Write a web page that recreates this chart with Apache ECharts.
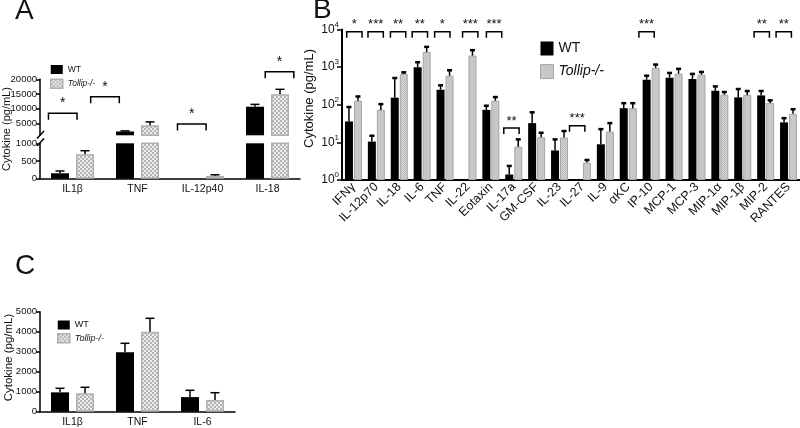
<!DOCTYPE html>
<html><head><meta charset="utf-8">
<script src="https://cdn.jsdelivr.net/npm/echarts@6/dist/echarts.min.js"></script>
<style>html,body{margin:0;padding:0;background:#fff}#c{width:800px;height:428px}</style>
</head><body><div id="c"></div>
<script>
// ---------- Panel A ----------
const catsA = ['IL1β', 'TNF', 'IL-12p40', 'IL-18'];
const wtA = [153, 2300, 0, 10700];
const wtErrA = [218, 2500, 0, 11500];
const koA = [690, 4430, 80, 14900];
const koErrA = [790, 5550, 110, 16600];
const bracketPosA = [-0.15, 0.5, 1.835, 3.185];
const bracketLevelA = [8460, 14100, 4830, 22580];
const bracketStarA = ['*', '*', '*', '*'];
const ticksAUpper = [5000, 10000, 15000, 20000];
const ticksALower = [0, 500, 1000];

// ---------- Panel B ----------
const catsB = ['IFNγ', 'IL-12p70', 'IL-18', 'IL-6', 'TNF', 'IL-22', 'Eotaxin', 'IL-17a', 'GM-CSF', 'IL-23',
  'IL-27', 'IL-9', 'αKC', 'IP-10', 'MCP-1', 'MCP-3', 'MIP-1α', 'MIP-1β', 'MIP-2', 'RANTES'];
const wtB = [36, 10.5, 154, 1000, 251, null, 73, 1.4, 32.5, 6.1, null, 8.9, 81, 464, 525, 480, 236, 157, 177, 34];
const wtErrB = [87, 15, 514, 1350, 328, null, 94, 2.36, 63, 12, null, 22.5, 110, 592, 700, 660, 307, 262, 232, 44];
const koB = [128, 73, 660, 2530, 590, 2030, 128, 7.7, 13.7, 13.5, 2.9, 19.4, 81, 950, 670, 630, 185, 182, 111, 57.5];
const koErrB = [166, 104, 727, 3450, 825, 2820, 160, 12, 18, 20, 3.4, 32.5, 110, 1170, 900, 745, 218, 232, 131, 76];
const bracketPosB = [0.04, 0.97, 1.95, 2.9, 3.88, 5.1, 6.14, 6.9, 9.77, 12.8, 17.83, 18.79];
const bracketLevelB = [8700, 8700, 8700, 8700, 8700, 8700, 8700, 24, 27.5, 8700, 8700, 8700];
const bracketStarB = ['*', '***', '**', '**', '*', '***', '***', '**', '***', '***', '**', '**'];
const ticksBMajor = [1, 10, 100, 1000, 10000];
const ticksBMinor = [2,3,4,5,6,7,8,9,20,30,40,50,60,70,80,90,200,300,400,500,600,700,800,900,2000,3000,4000,5000,6000,7000,8000,9000];

// ---------- Panel C ----------
const catsC = ['IL1β', 'TNF', 'IL-6'];
const wtC = [967, 2970, 730];
const wtErrC = [1170, 3420, 1070];
const koC = [920, 4000, 580];
const koErrC = [1220, 4670, 950];

const seriesNames = ['WT', 'Tollip-/-'];

// ---------- styling helpers ----------
const FONT = 'Liberation Sans, Arial, Helvetica, sans-serif';
const INK = '#111';
function checker(c1, c2, s) {
  const cv = document.createElement('canvas');
  cv.width = cv.height = s * 2;
  const g = cv.getContext('2d');
  g.fillStyle = c2; g.fillRect(0, 0, s * 2, s * 2);
  g.fillStyle = c1; g.fillRect(0, 0, s, s); g.fillRect(s, s, s, s);
  return { image: cv, repeat: 'repeat' };
}
const patA = checker('#b4b4b4', '#ececec', 2);
const patB = checker('#bdbdbd', '#d2d2d2', 1);
const koStyleA = { color: patA, borderColor: '#b0b0b0', borderWidth: 1.5 };
const koStyleB = { color: patB, borderColor: '#a5a5a5', borderWidth: 1 };
const plain = function (v) { return String(v); };

function errData(means, errs, keep) {
  const out = [];
  means.forEach((m, i) => {
    const e = errs[i];
    if (m == null || e == null || !(e > m)) return;
    if (keep && !keep(m)) return;
    out.push([i, e, m]);
  });
  return out;
}
function errSeries(xi, yi, data, offset, capHalf, capW, stemW) {
  return {
    type: 'custom', xAxisIndex: xi, yAxisIndex: yi, data: data, silent: true, z: 5,
    encode: { x: 0, y: 1 },
    renderItem: function (params, api) {
      const i = api.value(0), top = api.value(1), base = api.value(2);
      const pb = api.coord([i, base]);
      const pt = api.coord([i, top]);
      const x = pb[0] + offset;
      return {
        type: 'group', children: [
          { type: 'line', shape: { x1: x, y1: pb[1], x2: x, y2: pt[1] }, style: { stroke: '#000', lineWidth: stemW } },
          { type: 'line', shape: { x1: x - capHalf, y1: pt[1], x2: x + capHalf, y2: pt[1] }, style: { stroke: '#000', lineWidth: capW } }
        ]
      };
    }
  };
}
function bracketSeries(xi, yi, pos, level, stars, halfW, tick, starGap, fs) {
  return {
    type: 'custom', xAxisIndex: xi, yAxisIndex: yi, silent: true, clip: false, z: 6,
    data: level.map((l, k) => [k, l]),
    encode: { x: 0, y: 1 },
    renderItem: function (params, api) {
      const k = api.value(0), y = api.value(1);
      const p0 = api.coord([0, y]);
      const p1 = api.coord([1, y]);
      const band = p1[0] - p0[0];
      const xc = p0[0] + pos[k] * band;
      const hw = halfW * band;
      const yy = p0[1];
      return {
        type: 'group', children: [
          { type: 'polyline', shape: { points: [[xc - hw, yy + tick], [xc - hw, yy], [xc + hw, yy], [xc + hw, yy + tick]] },
            style: { stroke: '#000', lineWidth: 1.5, fill: null } },
          { type: 'text', x: xc, y: yy - starGap,
            style: { text: stars[k], fill: INK, font: fs + 'px ' + FONT, align: 'center', verticalAlign: 'middle' } }
        ]
      };
    }
  };
}
const axisLineStyle = { show: true, lineStyle: { color: '#000', width: 1.5 } };
const lblStyle = (fs) => ({ color: INK, fontSize: fs, fontFamily: FONT });

// ---------- option ----------
const option = {
  animation: false,
  textStyle: { fontFamily: FONT },
  grid: [
    { left: 40, top: 79.3, width: 260, height: 56 },     // A upper
    { left: 40, top: 143.3, width: 260, height: 35.4 },  // A lower
    { left: 342, top: 29.5, width: 458, height: 150.5 }, // B
    { left: 40, top: 311.7, width: 195, height: 100 }    // C
  ],
  xAxis: [
    { type: 'category', gridIndex: 0, data: catsA, show: false },
    { type: 'category', gridIndex: 1, data: catsA, axisLine: axisLineStyle,
      axisTick: { alignWithLabel: true, length: 4, lineStyle: { width: 1.5, color: '#000' } },
      axisLabel: Object.assign({ interval: 0, margin: 5 }, lblStyle(10.5)) },
    { type: 'category', gridIndex: 2, data: catsB, axisLine: { show: true, lineStyle: { color: '#000', width: 2 } },
      axisTick: { alignWithLabel: true, length: 4, lineStyle: { width: 1.5, color: '#000' } },
      axisLabel: Object.assign({ interval: 0, rotate: 45, margin: 5 }, lblStyle(12.5)) },
    { type: 'category', gridIndex: 3, data: catsC, axisLine: axisLineStyle,
      axisTick: { alignWithLabel: true, length: 4, lineStyle: { width: 1.5, color: '#000' } },
      axisLabel: Object.assign({ interval: 0, margin: 5 }, lblStyle(10.5)) }
  ],
  yAxis: [
    { type: 'value', gridIndex: 0, min: 1000, max: 20000, splitLine: { show: false }, axisLine: axisLineStyle,
      axisTick: { show: true, length: 4, customValues: ticksAUpper, lineStyle: { width: 1.5, color: '#000' } },
      axisLabel: Object.assign({ customValues: ticksAUpper, margin: 3, formatter: plain }, lblStyle(9.5)) },
    { type: 'value', gridIndex: 1, min: 0, max: 1000, interval: 500, splitLine: { show: false }, axisLine: axisLineStyle,
      axisTick: { show: true, length: 4, customValues: ticksALower, lineStyle: { width: 1.5, color: '#000' } },
      axisLabel: Object.assign({ customValues: ticksALower, margin: 3, formatter: plain }, lblStyle(9.5)) },
    { type: 'log', logBase: 10, gridIndex: 2, min: 1, max: 10000, splitLine: { show: false },
      axisLine: { show: true, lineStyle: { color: '#000', width: 2 } },
      axisTick: { show: true, length: 5, customValues: ticksBMajor, lineStyle: { width: 1.5, color: '#000' } },
      axisLabel: {
        customValues: ticksBMajor, margin: 3, color: INK, fontFamily: FONT,
        formatter: function (v) { return '{b|10}{s|' + Math.round(Math.log10(v)) + '}'; },
        rich: {
          b: { fontSize: 12, fontFamily: FONT, color: INK, lineHeight: 18 },
          s: { fontSize: 8, fontFamily: FONT, color: INK, verticalAlign: 'top', lineHeight: 10 }
        }
      } },
    { type: 'log', logBase: 10, gridIndex: 2, min: 1, max: 10000, splitLine: { show: false },
      axisLine: { show: false }, axisLabel: { show: false },
      axisTick: { show: true, length: 3, customValues: ticksBMinor, lineStyle: { width: 1, color: '#000' } } },
    { type: 'value', gridIndex: 3, min: 0, max: 5000, interval: 1000, splitLine: { show: false }, axisLine: axisLineStyle,
      axisTick: { show: true, length: 4, lineStyle: { width: 1.5, color: '#000' } },
      axisLabel: Object.assign({ margin: 3, formatter: plain }, lblStyle(9.5)) }
  ],
  legend: [
    { orient: 'vertical', left: 45, top: 60, itemWidth: 12, itemHeight: 9, itemGap: 4.5, icon: 'rect',
      textStyle: { fontSize: 8.5, color: INK, fontFamily: FONT, lineHeight: 9 },
      data: [{ name: seriesNames[0], itemStyle: { color: '#000', borderWidth: 0 } },
             { name: seriesNames[1], itemStyle: koStyleA, textStyle: { fontStyle: 'italic' } }] },
    { orient: 'vertical', left: 535, top: 36.5, itemWidth: 13, itemHeight: 14, itemGap: 8.6, icon: 'rect',
      textStyle: { fontSize: 14, color: INK, fontFamily: FONT, lineHeight: 14 },
      data: [{ name: seriesNames[0], itemStyle: { color: '#000', borderWidth: 0 } },
             { name: seriesNames[1], itemStyle: koStyleB, textStyle: { fontStyle: 'italic' } }] },
    { orient: 'vertical', left: 52, top: 315.5, itemWidth: 12, itemHeight: 9, itemGap: 3.5, icon: 'rect',
      textStyle: { fontSize: 9, color: INK, fontFamily: FONT, lineHeight: 9 },
      data: [{ name: seriesNames[0], itemStyle: { color: '#000', borderWidth: 0 } },
             { name: seriesNames[1], itemStyle: koStyleA, textStyle: { fontStyle: 'italic' } }] }
  ],
  series: [
    // A upper
    { type: 'bar', name: seriesNames[0], xAxisIndex: 0, yAxisIndex: 0, barWidth: 18, barGap: '39%',
      data: wtA.map(v => v > 1000 ? v : '-'), itemStyle: { color: '#000' } },
    { type: 'bar', name: seriesNames[1], xAxisIndex: 0, yAxisIndex: 0, barWidth: 18, barGap: '39%',
      data: koA.map(v => v > 1000 ? v : '-'), itemStyle: koStyleA },
    // A lower
    { type: 'bar', name: seriesNames[0], xAxisIndex: 1, yAxisIndex: 1, barWidth: 18, barGap: '39%',
      data: wtA, itemStyle: { color: '#000' } },
    { type: 'bar', name: seriesNames[1], xAxisIndex: 1, yAxisIndex: 1, barWidth: 18, barGap: '39%',
      data: koA, itemStyle: koStyleA },
    errSeries(0, 0, errData(wtA, wtErrA, m => m > 1000), -12.5, 4.5, 1.5, 1.5),
    errSeries(0, 0, errData(koA, koErrA, m => m > 1000), 12.5, 4.5, 1.5, 1.5),
    errSeries(1, 1, errData(wtA, wtErrA, m => m <= 1000), -12.5, 4.5, 1.5, 1.5),
    errSeries(1, 1, errData(koA, koErrA, m => m <= 1000), 12.5, 4.5, 1.5, 1.5),
    bracketSeries(0, 0, bracketPosA, bracketLevelA, bracketStarA, 0.22, 6.5, 10, 14),
    // B
    { type: 'bar', name: seriesNames[0], xAxisIndex: 2, yAxisIndex: 2, barWidth: 8, barGap: '12.5%',
      data: wtB.map(v => v == null ? '-' : v), itemStyle: { color: '#000' } },
    { type: 'bar', name: seriesNames[1], xAxisIndex: 2, yAxisIndex: 2, barWidth: 8, barGap: '12.5%',
      data: koB.map(v => v == null ? '-' : v), itemStyle: koStyleB },
    errSeries(2, 2, errData(wtB, wtErrB), -4.5, 2.5, 2.5, 1.5),
    errSeries(2, 2, errData(koB, koErrB), 4.5, 2.5, 2.5, 1.5),
    bracketSeries(2, 2, bracketPosB, bracketLevelB, bracketStarB, 0.335, 6, 7, 13),
    // C
    { type: 'bar', name: seriesNames[0], xAxisIndex: 3, yAxisIndex: 4, barWidth: 18, barGap: '39%',
      data: wtC, itemStyle: { color: '#000' } },
    { type: 'bar', name: seriesNames[1], xAxisIndex: 3, yAxisIndex: 4, barWidth: 18, barGap: '39%',
      data: koC, itemStyle: koStyleA },
    errSeries(3, 4, errData(wtC, wtErrC), -12.5, 4.5, 1.5, 1.5),
    errSeries(3, 4, errData(koC, koErrC), 12.5, 4.5, 1.5, 1.5)
  ],
  graphic: [
    { type: 'text', x: 15, y: -3, style: { text: 'A', font: '28px ' + FONT, fill: INK } },
    { type: 'text', x: 313, y: -4, style: { text: 'B', font: '28px ' + FONT, fill: INK } },
    { type: 'text', x: 15, y: 252, style: { text: 'C', font: '28px ' + FONT, fill: INK } },
    { type: 'text', x: 7, y: 129, rotation: Math.PI / 2,
      style: { text: 'Cytokine (pg/mL)', font: '11px ' + FONT, fill: INK, align: 'center', verticalAlign: 'middle' } },
    { type: 'text', x: 309, y: 98.5, rotation: Math.PI / 2,
      style: { text: 'Cytokine (pg/mL)', font: '13px ' + FONT, fill: INK, align: 'center', verticalAlign: 'middle' } },
    { type: 'text', x: 9, y: 357.5, rotation: Math.PI / 2,
      style: { text: 'Cytokine (pg/mL)', font: '11.5px ' + FONT, fill: INK, align: 'center', verticalAlign: 'middle' } },
    // axis break marks (panel A)
    { type: 'line', shape: { x1: 37, y1: 138.5, x2: 44, y2: 131 }, style: { stroke: '#000', lineWidth: 1.5 } },
    { type: 'line', shape: { x1: 37, y1: 146, x2: 44, y2: 138.5 }, style: { stroke: '#000', lineWidth: 1.5 } }
  ]
};
const chart = echarts.init(document.getElementById('c'), null, { renderer: 'canvas' });
chart.setOption(option);
</script>
</body></html>
